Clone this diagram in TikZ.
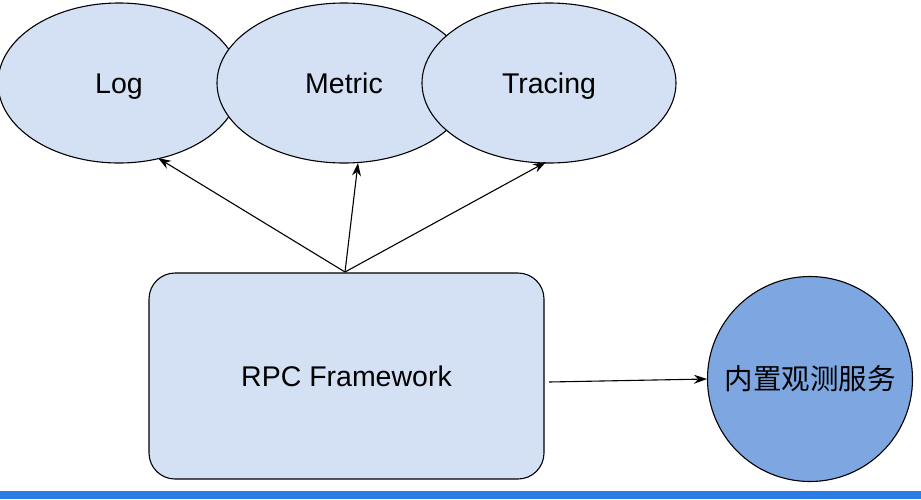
\documentclass[tikz,border=0pt]{standalone}
\usepackage{fontspec}
\setmainfont{Liberation Sans}
\newfontfamily\cjk{Noto Sans CJK SC}
\usetikzlibrary{shapes.geometric,arrows.meta}
\definecolor{lightfill}{HTML}{D4E1F5}
\definecolor{darkfill}{HTML}{7EA6E0}
\definecolor{barblue}{HTML}{2A7AE8}
\tikzset{
  lbl/.style={font=\fontsize{28.5}{32}\selectfont,text height=20.5pt,text depth=0pt},
  obs/.style={ellipse,draw=black,fill=lightfill,line width=1.1pt,minimum width=254pt,minimum height=160pt,inner sep=0pt,lbl},
  fw/.style={rectangle,rounded corners=26pt,draw=black,fill=lightfill,line width=1.1pt,minimum width=395pt,minimum height=206pt,inner sep=0pt},
  svc/.style={circle,draw=black,fill=darkfill,line width=1.1pt,minimum size=205pt,inner sep=0pt,font=\cjk\fontsize{28.5}{32}\selectfont},
  conn/.style={-{Stealth[length=13pt,width=9pt]},line width=1.1pt}
}
\begin{document}
\begin{tikzpicture}[x=1pt,y=-1pt]
\useasboundingbox (0,0) rectangle (921,499);
\fill[white] (0,0) rectangle (921,499);
\node[obs,minimum width=242pt] (log) at (119,83) {Log};
\node[obs] (metric) at (344,83) {Metric};
\node[obs] (tracing) at (549,83) {Tracing};
\node[fw] (rpc) at (346.5,376) {};
\node[lbl] (rpclabel) at (rpc.center) {RPC Framework};
\node[svc] (svc) at (810,379) {内置观测服务};
\coordinate (top) at (345,272);
\coordinate (logend) at (158,158);
\coordinate (metricend) at (358,163);
\coordinate (tracingend) at (546,162);
\coordinate (rpcright) at (549,382);
\draw[conn] (top) -- (logend);
\draw[conn] (top) -- (metricend);
\draw[conn] (top) -- (tracingend);
\draw[conn] (rpcright) -- (svc.west);
\fill[barblue] (0,491) rectangle (921,499);
\end{tikzpicture}
\end{document}
